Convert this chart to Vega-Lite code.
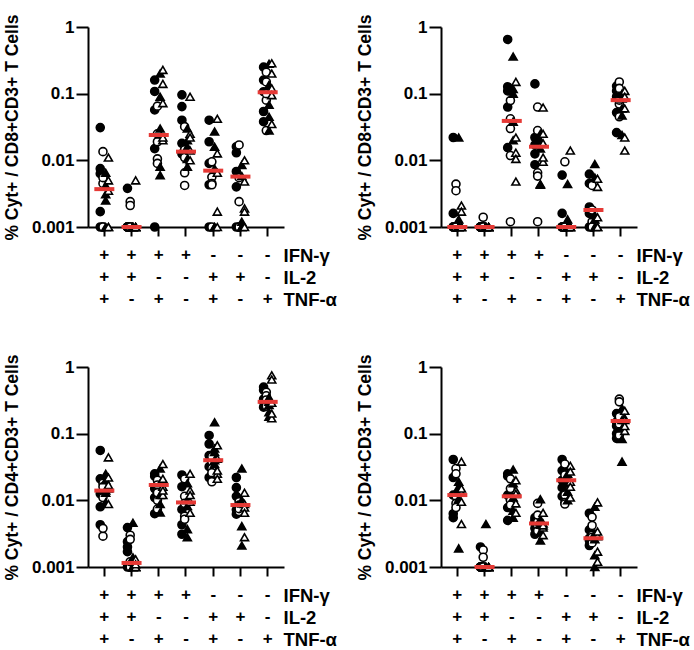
{
"$schema": "https://vega.github.io/schema/vega-lite/v6.json",
"padding": {"left": 3, "top": 13, "right": 0, "bottom": 0},
"config": {"font": "Liberation Sans", "view": {"stroke": null}, "legend": {"disable": true},
 "axis": {"grid": false, "domainColor": "black", "domainWidth": 2, "tickColor": "black", "tickWidth": 2, "labelColor": "black", "titleColor": "black", "labelFontSize": 17, "labelFontWeight": "bold", "titleFontSize": 17.5, "titleFontWeight": "bold"}},
"datasets": {
"pts": [
{"p":1,"c":"+++","g":"A","v":0.031},{"p":1,"c":"+++","g":"A","v":0.0075},{"p":1,"c":"+++","g":"A","v":0.0063},{"p":1,"c":"+++","g":"A","v":0.0017},{"p":1,"c":"+++","g":"A","v":0.001},
{"p":1,"c":"+++","g":"B","v":0.0135},{"p":1,"c":"+++","g":"B","v":0.0045},{"p":1,"c":"+++","g":"B","v":0.001},{"p":1,"c":"+++","g":"B","v":0.001},{"p":1,"c":"+++","g":"B","v":0.0055},
{"p":1,"c":"+++","g":"C","v":0.0031},{"p":1,"c":"+++","g":"C","v":0.0025},{"p":1,"c":"+++","g":"C","v":0.0042},{"p":1,"c":"+++","g":"C","v":0.001},{"p":1,"c":"+++","g":"C","v":0.0065},
{"p":1,"c":"+++","g":"D","v":0.011},{"p":1,"c":"+++","g":"D","v":0.005},{"p":1,"c":"+++","g":"D","v":0.0035},{"p":1,"c":"+++","g":"D","v":0.001},{"p":1,"c":"+++","g":"D","v":0.001},
{"p":1,"c":"++-","g":"A","v":0.0038},{"p":1,"c":"++-","g":"A","v":0.001},{"p":1,"c":"++-","g":"A","v":0.001},{"p":1,"c":"++-","g":"A","v":0.001},{"p":1,"c":"++-","g":"A","v":0.001},
{"p":1,"c":"++-","g":"B","v":0.0024},{"p":1,"c":"++-","g":"B","v":0.0021},{"p":1,"c":"++-","g":"B","v":0.001},{"p":1,"c":"++-","g":"B","v":0.001},{"p":1,"c":"++-","g":"B","v":0.001},
{"p":1,"c":"++-","g":"C","v":0.001},{"p":1,"c":"++-","g":"C","v":0.001},{"p":1,"c":"++-","g":"C","v":0.001},{"p":1,"c":"++-","g":"C","v":0.001},{"p":1,"c":"++-","g":"C","v":0.001},
{"p":1,"c":"++-","g":"D","v":0.005},{"p":1,"c":"++-","g":"D","v":0.001},{"p":1,"c":"++-","g":"D","v":0.001},{"p":1,"c":"++-","g":"D","v":0.001},{"p":1,"c":"++-","g":"D","v":0.001},
{"p":1,"c":"+-+","g":"A","v":0.16},{"p":1,"c":"+-+","g":"A","v":0.108},{"p":1,"c":"+-+","g":"A","v":0.057},{"p":1,"c":"+-+","g":"A","v":0.015},{"p":1,"c":"+-+","g":"A","v":0.001},
{"p":1,"c":"+-+","g":"B","v":0.065},{"p":1,"c":"+-+","g":"B","v":0.019},{"p":1,"c":"+-+","g":"B","v":0.0105},{"p":1,"c":"+-+","g":"B","v":0.009},{"p":1,"c":"+-+","g":"B","v":0.025},
{"p":1,"c":"+-+","g":"C","v":0.2},{"p":1,"c":"+-+","g":"C","v":0.09},{"p":1,"c":"+-+","g":"C","v":0.008},{"p":1,"c":"+-+","g":"C","v":0.006},{"p":1,"c":"+-+","g":"C","v":0.03},
{"p":1,"c":"+-+","g":"D","v":0.227},{"p":1,"c":"+-+","g":"D","v":0.072},{"p":1,"c":"+-+","g":"D","v":0.02},{"p":1,"c":"+-+","g":"D","v":0.022},{"p":1,"c":"+-+","g":"D","v":0.14},
{"p":1,"c":"+--","g":"A","v":0.096},{"p":1,"c":"+--","g":"A","v":0.064},{"p":1,"c":"+--","g":"A","v":0.04},{"p":1,"c":"+--","g":"A","v":0.018},{"p":1,"c":"+--","g":"A","v":0.0125},
{"p":1,"c":"+--","g":"B","v":0.032},{"p":1,"c":"+--","g":"B","v":0.0145},{"p":1,"c":"+--","g":"B","v":0.0065},{"p":1,"c":"+--","g":"B","v":0.0042},{"p":1,"c":"+--","g":"B","v":0.011},
{"p":1,"c":"+--","g":"C","v":0.03},{"p":1,"c":"+--","g":"C","v":0.016},{"p":1,"c":"+--","g":"C","v":0.008},{"p":1,"c":"+--","g":"C","v":0.02},{"p":1,"c":"+--","g":"C","v":0.0105},
{"p":1,"c":"+--","g":"D","v":0.09},{"p":1,"c":"+--","g":"D","v":0.025},{"p":1,"c":"+--","g":"D","v":0.014},{"p":1,"c":"+--","g":"D","v":0.01},{"p":1,"c":"+--","g":"D","v":0.022},
{"p":1,"c":"-++","g":"A","v":0.04},{"p":1,"c":"-++","g":"A","v":0.019},{"p":1,"c":"-++","g":"A","v":0.009},{"p":1,"c":"-++","g":"A","v":0.0043},{"p":1,"c":"-++","g":"A","v":0.001},
{"p":1,"c":"-++","g":"B","v":0.0095},{"p":1,"c":"-++","g":"B","v":0.0056},{"p":1,"c":"-++","g":"B","v":0.0045},{"p":1,"c":"-++","g":"B","v":0.0043},{"p":1,"c":"-++","g":"B","v":0.001},
{"p":1,"c":"-++","g":"C","v":0.027},{"p":1,"c":"-++","g":"C","v":0.016},{"p":1,"c":"-++","g":"C","v":0.0075},{"p":1,"c":"-++","g":"C","v":0.001},{"p":1,"c":"-++","g":"C","v":0.001},
{"p":1,"c":"-++","g":"D","v":0.042},{"p":1,"c":"-++","g":"D","v":0.0127},{"p":1,"c":"-++","g":"D","v":0.0017},{"p":1,"c":"-++","g":"D","v":0.001},{"p":1,"c":"-++","g":"D","v":0.0065},
{"p":1,"c":"-+-","g":"A","v":0.016},{"p":1,"c":"-+-","g":"A","v":0.013},{"p":1,"c":"-+-","g":"A","v":0.0068},{"p":1,"c":"-+-","g":"A","v":0.004},{"p":1,"c":"-+-","g":"A","v":0.001},
{"p":1,"c":"-+-","g":"B","v":0.017},{"p":1,"c":"-+-","g":"B","v":0.0024},{"p":1,"c":"-+-","g":"B","v":0.001},{"p":1,"c":"-+-","g":"B","v":0.001},{"p":1,"c":"-+-","g":"B","v":0.0055},
{"p":1,"c":"-+-","g":"C","v":0.0085},{"p":1,"c":"-+-","g":"C","v":0.0012},{"p":1,"c":"-+-","g":"C","v":0.001},{"p":1,"c":"-+-","g":"C","v":0.001},{"p":1,"c":"-+-","g":"C","v":0.0058},
{"p":1,"c":"-+-","g":"D","v":0.01},{"p":1,"c":"-+-","g":"D","v":0.0019},{"p":1,"c":"-+-","g":"D","v":0.0017},{"p":1,"c":"-+-","g":"D","v":0.001},{"p":1,"c":"-+-","g":"D","v":0.0048},
{"p":1,"c":"--+","g":"A","v":0.25},{"p":1,"c":"--+","g":"A","v":0.16},{"p":1,"c":"--+","g":"A","v":0.107},{"p":1,"c":"--+","g":"A","v":0.054},{"p":1,"c":"--+","g":"A","v":0.038},
{"p":1,"c":"--+","g":"B","v":0.21},{"p":1,"c":"--+","g":"B","v":0.15},{"p":1,"c":"--+","g":"B","v":0.08},{"p":1,"c":"--+","g":"B","v":0.028},{"p":1,"c":"--+","g":"B","v":0.1},
{"p":1,"c":"--+","g":"C","v":0.28},{"p":1,"c":"--+","g":"C","v":0.135},{"p":1,"c":"--+","g":"C","v":0.068},{"p":1,"c":"--+","g":"C","v":0.045},{"p":1,"c":"--+","g":"C","v":0.028},
{"p":1,"c":"--+","g":"D","v":0.286},{"p":1,"c":"--+","g":"D","v":0.12},{"p":1,"c":"--+","g":"D","v":0.095},{"p":1,"c":"--+","g":"D","v":0.035},{"p":1,"c":"--+","g":"D","v":0.2},

{"p":2,"c":"+++","g":"A","v":0.022},{"p":2,"c":"+++","g":"A","v":0.0016},{"p":2,"c":"+++","g":"A","v":0.001},{"p":2,"c":"+++","g":"A","v":0.001},{"p":2,"c":"+++","g":"A","v":0.001},
{"p":2,"c":"+++","g":"B","v":0.0044},{"p":2,"c":"+++","g":"B","v":0.0035},{"p":2,"c":"+++","g":"B","v":0.001},{"p":2,"c":"+++","g":"B","v":0.001},{"p":2,"c":"+++","g":"B","v":0.001},
{"p":2,"c":"+++","g":"C","v":0.022},{"p":2,"c":"+++","g":"C","v":0.0013},{"p":2,"c":"+++","g":"C","v":0.001},{"p":2,"c":"+++","g":"C","v":0.001},{"p":2,"c":"+++","g":"C","v":0.001},
{"p":2,"c":"+++","g":"D","v":0.0021},{"p":2,"c":"+++","g":"D","v":0.0017},{"p":2,"c":"+++","g":"D","v":0.001},{"p":2,"c":"+++","g":"D","v":0.001},{"p":2,"c":"+++","g":"D","v":0.001},
{"p":2,"c":"++-","g":"A","v":0.001},{"p":2,"c":"++-","g":"A","v":0.001},{"p":2,"c":"++-","g":"A","v":0.001},{"p":2,"c":"++-","g":"A","v":0.001},{"p":2,"c":"++-","g":"A","v":0.001},
{"p":2,"c":"++-","g":"B","v":0.0014},{"p":2,"c":"++-","g":"B","v":0.001},{"p":2,"c":"++-","g":"B","v":0.001},{"p":2,"c":"++-","g":"B","v":0.001},{"p":2,"c":"++-","g":"B","v":0.001},
{"p":2,"c":"++-","g":"C","v":0.001},{"p":2,"c":"++-","g":"C","v":0.001},{"p":2,"c":"++-","g":"C","v":0.001},{"p":2,"c":"++-","g":"C","v":0.001},{"p":2,"c":"++-","g":"C","v":0.001},
{"p":2,"c":"++-","g":"D","v":0.001},{"p":2,"c":"++-","g":"D","v":0.001},{"p":2,"c":"++-","g":"D","v":0.001},{"p":2,"c":"++-","g":"D","v":0.001},{"p":2,"c":"++-","g":"D","v":0.001},
{"p":2,"c":"+-+","g":"A","v":0.65},{"p":2,"c":"+-+","g":"A","v":0.127},{"p":2,"c":"+-+","g":"A","v":0.11},{"p":2,"c":"+-+","g":"A","v":0.063},{"p":2,"c":"+-+","g":"A","v":0.0155},
{"p":2,"c":"+-+","g":"B","v":0.079},{"p":2,"c":"+-+","g":"B","v":0.042},{"p":2,"c":"+-+","g":"B","v":0.0118},{"p":2,"c":"+-+","g":"B","v":0.0012},{"p":2,"c":"+-+","g":"B","v":0.03},
{"p":2,"c":"+-+","g":"C","v":0.36},{"p":2,"c":"+-+","g":"C","v":0.118},{"p":2,"c":"+-+","g":"C","v":0.038},{"p":2,"c":"+-+","g":"C","v":0.02},{"p":2,"c":"+-+","g":"C","v":0.1},
{"p":2,"c":"+-+","g":"D","v":0.15},{"p":2,"c":"+-+","g":"D","v":0.022},{"p":2,"c":"+-+","g":"D","v":0.013},{"p":2,"c":"+-+","g":"D","v":0.0105},{"p":2,"c":"+-+","g":"D","v":0.0048},
{"p":2,"c":"+--","g":"A","v":0.14},{"p":2,"c":"+--","g":"A","v":0.022},{"p":2,"c":"+--","g":"A","v":0.0125},{"p":2,"c":"+--","g":"A","v":0.0086},{"p":2,"c":"+--","g":"A","v":0.017},
{"p":2,"c":"+--","g":"B","v":0.063},{"p":2,"c":"+--","g":"B","v":0.028},{"p":2,"c":"+--","g":"B","v":0.0065},{"p":2,"c":"+--","g":"B","v":0.0058},{"p":2,"c":"+--","g":"B","v":0.0012},
{"p":2,"c":"+--","g":"C","v":0.02},{"p":2,"c":"+--","g":"C","v":0.015},{"p":2,"c":"+--","g":"C","v":0.0044},{"p":2,"c":"+--","g":"C","v":0.0043},{"p":2,"c":"+--","g":"C","v":0.025},
{"p":2,"c":"+--","g":"D","v":0.062},{"p":2,"c":"+--","g":"D","v":0.025},{"p":2,"c":"+--","g":"D","v":0.018},{"p":2,"c":"+--","g":"D","v":0.0095},{"p":2,"c":"+--","g":"D","v":0.011},
{"p":2,"c":"-++","g":"A","v":0.006},{"p":2,"c":"-++","g":"A","v":0.0016},{"p":2,"c":"-++","g":"A","v":0.001},{"p":2,"c":"-++","g":"A","v":0.001},{"p":2,"c":"-++","g":"A","v":0.001},
{"p":2,"c":"-++","g":"B","v":0.0095},{"p":2,"c":"-++","g":"B","v":0.001},{"p":2,"c":"-++","g":"B","v":0.001},{"p":2,"c":"-++","g":"B","v":0.001},{"p":2,"c":"-++","g":"B","v":0.001},
{"p":2,"c":"-++","g":"C","v":0.0044},{"p":2,"c":"-++","g":"C","v":0.0013},{"p":2,"c":"-++","g":"C","v":0.001},{"p":2,"c":"-++","g":"C","v":0.001},{"p":2,"c":"-++","g":"C","v":0.001},
{"p":2,"c":"-++","g":"D","v":0.014},{"p":2,"c":"-++","g":"D","v":0.001},{"p":2,"c":"-++","g":"D","v":0.001},{"p":2,"c":"-++","g":"D","v":0.001},{"p":2,"c":"-++","g":"D","v":0.001},
{"p":2,"c":"-+-","g":"A","v":0.0062},{"p":2,"c":"-+-","g":"A","v":0.0045},{"p":2,"c":"-+-","g":"A","v":0.002},{"p":2,"c":"-+-","g":"A","v":0.0016},{"p":2,"c":"-+-","g":"A","v":0.001},
{"p":2,"c":"-+-","g":"B","v":0.0042},{"p":2,"c":"-+-","g":"B","v":0.0012},{"p":2,"c":"-+-","g":"B","v":0.001},{"p":2,"c":"-+-","g":"B","v":0.001},{"p":2,"c":"-+-","g":"B","v":0.0018},
{"p":2,"c":"-+-","g":"C","v":0.0088},{"p":2,"c":"-+-","g":"C","v":0.0055},{"p":2,"c":"-+-","g":"C","v":0.0013},{"p":2,"c":"-+-","g":"C","v":0.001},{"p":2,"c":"-+-","g":"C","v":0.0015},
{"p":2,"c":"-+-","g":"D","v":0.0053},{"p":2,"c":"-+-","g":"D","v":0.004},{"p":2,"c":"-+-","g":"D","v":0.0014},{"p":2,"c":"-+-","g":"D","v":0.001},{"p":2,"c":"-+-","g":"D","v":0.001},
{"p":2,"c":"--+","g":"A","v":0.13},{"p":2,"c":"--+","g":"A","v":0.11},{"p":2,"c":"--+","g":"A","v":0.052},{"p":2,"c":"--+","g":"A","v":0.026},{"p":2,"c":"--+","g":"A","v":0.09},
{"p":2,"c":"--+","g":"B","v":0.15},{"p":2,"c":"--+","g":"B","v":0.12},{"p":2,"c":"--+","g":"B","v":0.07},{"p":2,"c":"--+","g":"B","v":0.045},{"p":2,"c":"--+","g":"B","v":0.08},
{"p":2,"c":"--+","g":"C","v":0.1},{"p":2,"c":"--+","g":"C","v":0.085},{"p":2,"c":"--+","g":"C","v":0.047},{"p":2,"c":"--+","g":"C","v":0.024},{"p":2,"c":"--+","g":"C","v":0.06},
{"p":2,"c":"--+","g":"D","v":0.11},{"p":2,"c":"--+","g":"D","v":0.06},{"p":2,"c":"--+","g":"D","v":0.022},{"p":2,"c":"--+","g":"D","v":0.014},{"p":2,"c":"--+","g":"D","v":0.09},

{"p":3,"c":"+++","g":"A","v":0.056},{"p":3,"c":"+++","g":"A","v":0.021},{"p":3,"c":"+++","g":"A","v":0.0125},{"p":3,"c":"+++","g":"A","v":0.008},{"p":3,"c":"+++","g":"A","v":0.0043},
{"p":3,"c":"+++","g":"B","v":0.018},{"p":3,"c":"+++","g":"B","v":0.016},{"p":3,"c":"+++","g":"B","v":0.011},{"p":3,"c":"+++","g":"B","v":0.0029},{"p":3,"c":"+++","g":"B","v":0.0038},
{"p":3,"c":"+++","g":"C","v":0.025},{"p":3,"c":"+++","g":"C","v":0.014},{"p":3,"c":"+++","g":"C","v":0.0093},{"p":3,"c":"+++","g":"C","v":0.02},{"p":3,"c":"+++","g":"C","v":0.013},
{"p":3,"c":"+++","g":"D","v":0.044},{"p":3,"c":"+++","g":"D","v":0.015},{"p":3,"c":"+++","g":"D","v":0.0088},{"p":3,"c":"+++","g":"D","v":0.022},{"p":3,"c":"+++","g":"D","v":0.017},
{"p":3,"c":"++-","g":"A","v":0.0039},{"p":3,"c":"++-","g":"A","v":0.0024},{"p":3,"c":"++-","g":"A","v":0.002},{"p":3,"c":"++-","g":"A","v":0.0017},{"p":3,"c":"++-","g":"A","v":0.001},
{"p":3,"c":"++-","g":"B","v":0.003},{"p":3,"c":"++-","g":"B","v":0.0026},{"p":3,"c":"++-","g":"B","v":0.001},{"p":3,"c":"++-","g":"B","v":0.001},{"p":3,"c":"++-","g":"B","v":0.0012},
{"p":3,"c":"++-","g":"C","v":0.0046},{"p":3,"c":"++-","g":"C","v":0.0014},{"p":3,"c":"++-","g":"C","v":0.001},{"p":3,"c":"++-","g":"C","v":0.001},{"p":3,"c":"++-","g":"C","v":0.001},
{"p":3,"c":"++-","g":"D","v":0.0013},{"p":3,"c":"++-","g":"D","v":0.001},{"p":3,"c":"++-","g":"D","v":0.001},{"p":3,"c":"++-","g":"D","v":0.001},{"p":3,"c":"++-","g":"D","v":0.0011},
{"p":3,"c":"+-+","g":"A","v":0.025},{"p":3,"c":"+-+","g":"A","v":0.015},{"p":3,"c":"+-+","g":"A","v":0.011},{"p":3,"c":"+-+","g":"A","v":0.0063},{"p":3,"c":"+-+","g":"A","v":0.023},
{"p":3,"c":"+-+","g":"B","v":0.02},{"p":3,"c":"+-+","g":"B","v":0.01},{"p":3,"c":"+-+","g":"B","v":0.0074},{"p":3,"c":"+-+","g":"B","v":0.017},{"p":3,"c":"+-+","g":"B","v":0.013},
{"p":3,"c":"+-+","g":"C","v":0.03},{"p":3,"c":"+-+","g":"C","v":0.018},{"p":3,"c":"+-+","g":"C","v":0.012},{"p":3,"c":"+-+","g":"C","v":0.0088},{"p":3,"c":"+-+","g":"C","v":0.0066},
{"p":3,"c":"+-+","g":"D","v":0.035},{"p":3,"c":"+-+","g":"D","v":0.021},{"p":3,"c":"+-+","g":"D","v":0.016},{"p":3,"c":"+-+","g":"D","v":0.012},{"p":3,"c":"+-+","g":"D","v":0.014},
{"p":3,"c":"+--","g":"A","v":0.024},{"p":3,"c":"+--","g":"A","v":0.016},{"p":3,"c":"+--","g":"A","v":0.0073},{"p":3,"c":"+--","g":"A","v":0.0043},{"p":3,"c":"+--","g":"A","v":0.0031},
{"p":3,"c":"+--","g":"B","v":0.021},{"p":3,"c":"+--","g":"B","v":0.0115},{"p":3,"c":"+--","g":"B","v":0.0058},{"p":3,"c":"+--","g":"B","v":0.0052},{"p":3,"c":"+--","g":"B","v":0.009},
{"p":3,"c":"+--","g":"C","v":0.018},{"p":3,"c":"+--","g":"C","v":0.0082},{"p":3,"c":"+--","g":"C","v":0.0037},{"p":3,"c":"+--","g":"C","v":0.0028},{"p":3,"c":"+--","g":"C","v":0.01},
{"p":3,"c":"+--","g":"D","v":0.025},{"p":3,"c":"+--","g":"D","v":0.014},{"p":3,"c":"+--","g":"D","v":0.0095},{"p":3,"c":"+--","g":"D","v":0.0065},{"p":3,"c":"+--","g":"D","v":0.012},
{"p":3,"c":"-++","g":"A","v":0.094},{"p":3,"c":"-++","g":"A","v":0.07},{"p":3,"c":"-++","g":"A","v":0.047},{"p":3,"c":"-++","g":"A","v":0.032},{"p":3,"c":"-++","g":"A","v":0.022},
{"p":3,"c":"-++","g":"B","v":0.038},{"p":3,"c":"-++","g":"B","v":0.03},{"p":3,"c":"-++","g":"B","v":0.019},{"p":3,"c":"-++","g":"B","v":0.045},{"p":3,"c":"-++","g":"B","v":0.026},
{"p":3,"c":"-++","g":"C","v":0.148},{"p":3,"c":"-++","g":"C","v":0.053},{"p":3,"c":"-++","g":"C","v":0.04},{"p":3,"c":"-++","g":"C","v":0.035},{"p":3,"c":"-++","g":"C","v":0.06},
{"p":3,"c":"-++","g":"D","v":0.067},{"p":3,"c":"-++","g":"D","v":0.042},{"p":3,"c":"-++","g":"D","v":0.025},{"p":3,"c":"-++","g":"D","v":0.021},{"p":3,"c":"-++","g":"D","v":0.028},
{"p":3,"c":"-+-","g":"A","v":0.022},{"p":3,"c":"-+-","g":"A","v":0.0155},{"p":3,"c":"-+-","g":"A","v":0.0115},{"p":3,"c":"-+-","g":"A","v":0.0072},{"p":3,"c":"-+-","g":"A","v":0.0062},
{"p":3,"c":"-+-","g":"B","v":0.0095},{"p":3,"c":"-+-","g":"B","v":0.0085},{"p":3,"c":"-+-","g":"B","v":0.0068},{"p":3,"c":"-+-","g":"B","v":0.0082},{"p":3,"c":"-+-","g":"B","v":0.0075},
{"p":3,"c":"-+-","g":"C","v":0.03},{"p":3,"c":"-+-","g":"C","v":0.0041},{"p":3,"c":"-+-","g":"C","v":0.0021},{"p":3,"c":"-+-","g":"C","v":0.009},{"p":3,"c":"-+-","g":"C","v":0.01},
{"p":3,"c":"-+-","g":"D","v":0.013},{"p":3,"c":"-+-","g":"D","v":0.0028},{"p":3,"c":"-+-","g":"D","v":0.0088},{"p":3,"c":"-+-","g":"D","v":0.0078},{"p":3,"c":"-+-","g":"D","v":0.0065},
{"p":3,"c":"--+","g":"A","v":0.5},{"p":3,"c":"--+","g":"A","v":0.45},{"p":3,"c":"--+","g":"A","v":0.33},{"p":3,"c":"--+","g":"A","v":0.25},{"p":3,"c":"--+","g":"A","v":0.3},
{"p":3,"c":"--+","g":"B","v":0.42},{"p":3,"c":"--+","g":"B","v":0.37},{"p":3,"c":"--+","g":"B","v":0.28},{"p":3,"c":"--+","g":"B","v":0.26},{"p":3,"c":"--+","g":"B","v":0.32},
{"p":3,"c":"--+","g":"C","v":0.3},{"p":3,"c":"--+","g":"C","v":0.21},{"p":3,"c":"--+","g":"C","v":0.18},{"p":3,"c":"--+","g":"C","v":0.35},{"p":3,"c":"--+","g":"C","v":0.27},
{"p":3,"c":"--+","g":"D","v":0.75},{"p":3,"c":"--+","g":"D","v":0.65},{"p":3,"c":"--+","g":"D","v":0.17},{"p":3,"c":"--+","g":"D","v":0.2},{"p":3,"c":"--+","g":"D","v":0.29},

{"p":4,"c":"+++","g":"A","v":0.041},{"p":4,"c":"+++","g":"A","v":0.022},{"p":4,"c":"+++","g":"A","v":0.012},{"p":4,"c":"+++","g":"A","v":0.0063},{"p":4,"c":"+++","g":"A","v":0.0055},
{"p":4,"c":"+++","g":"B","v":0.03},{"p":4,"c":"+++","g":"B","v":0.025},{"p":4,"c":"+++","g":"B","v":0.0115},{"p":4,"c":"+++","g":"B","v":0.009},{"p":4,"c":"+++","g":"B","v":0.0078},
{"p":4,"c":"+++","g":"C","v":0.019},{"p":4,"c":"+++","g":"C","v":0.014},{"p":4,"c":"+++","g":"C","v":0.0019},{"p":4,"c":"+++","g":"C","v":0.0105},{"p":4,"c":"+++","g":"C","v":0.016},
{"p":4,"c":"+++","g":"D","v":0.038},{"p":4,"c":"+++","g":"D","v":0.0044},{"p":4,"c":"+++","g":"D","v":0.013},{"p":4,"c":"+++","g":"D","v":0.015},{"p":4,"c":"+++","g":"D","v":0.0095},
{"p":4,"c":"++-","g":"A","v":0.002},{"p":4,"c":"++-","g":"A","v":0.001},{"p":4,"c":"++-","g":"A","v":0.001},{"p":4,"c":"++-","g":"A","v":0.001},{"p":4,"c":"++-","g":"A","v":0.001},
{"p":4,"c":"++-","g":"B","v":0.0018},{"p":4,"c":"++-","g":"B","v":0.0014},{"p":4,"c":"++-","g":"B","v":0.001},{"p":4,"c":"++-","g":"B","v":0.001},{"p":4,"c":"++-","g":"B","v":0.001},
{"p":4,"c":"++-","g":"C","v":0.0044},{"p":4,"c":"++-","g":"C","v":0.001},{"p":4,"c":"++-","g":"C","v":0.001},{"p":4,"c":"++-","g":"C","v":0.001},{"p":4,"c":"++-","g":"C","v":0.001},
{"p":4,"c":"++-","g":"D","v":0.001},{"p":4,"c":"++-","g":"D","v":0.001},{"p":4,"c":"++-","g":"D","v":0.001},{"p":4,"c":"++-","g":"D","v":0.001},{"p":4,"c":"++-","g":"D","v":0.001},
{"p":4,"c":"+-+","g":"A","v":0.025},{"p":4,"c":"+-+","g":"A","v":0.023},{"p":4,"c":"+-+","g":"A","v":0.0078},{"p":4,"c":"+-+","g":"A","v":0.005},{"p":4,"c":"+-+","g":"A","v":0.012},
{"p":4,"c":"+-+","g":"B","v":0.021},{"p":4,"c":"+-+","g":"B","v":0.0104},{"p":4,"c":"+-+","g":"B","v":0.01},{"p":4,"c":"+-+","g":"B","v":0.015},{"p":4,"c":"+-+","g":"B","v":0.0085},
{"p":4,"c":"+-+","g":"C","v":0.029},{"p":4,"c":"+-+","g":"C","v":0.018},{"p":4,"c":"+-+","g":"C","v":0.0055},{"p":4,"c":"+-+","g":"C","v":0.007},{"p":4,"c":"+-+","g":"C","v":0.011},
{"p":4,"c":"+-+","g":"D","v":0.02},{"p":4,"c":"+-+","g":"D","v":0.014},{"p":4,"c":"+-+","g":"D","v":0.009},{"p":4,"c":"+-+","g":"D","v":0.0125},{"p":4,"c":"+-+","g":"D","v":0.0065},
{"p":4,"c":"+--","g":"A","v":0.0055},{"p":4,"c":"+--","g":"A","v":0.0045},{"p":4,"c":"+--","g":"A","v":0.0031},{"p":4,"c":"+--","g":"A","v":0.0038},{"p":4,"c":"+--","g":"A","v":0.005},
{"p":4,"c":"+--","g":"B","v":0.009},{"p":4,"c":"+--","g":"B","v":0.0041},{"p":4,"c":"+--","g":"B","v":0.0035},{"p":4,"c":"+--","g":"B","v":0.0048},{"p":4,"c":"+--","g":"B","v":0.006},
{"p":4,"c":"+--","g":"C","v":0.0104},{"p":4,"c":"+--","g":"C","v":0.0025},{"p":4,"c":"+--","g":"C","v":0.0043},{"p":4,"c":"+--","g":"C","v":0.0033},{"p":4,"c":"+--","g":"C","v":0.0052},
{"p":4,"c":"+--","g":"D","v":0.0065},{"p":4,"c":"+--","g":"D","v":0.0045},{"p":4,"c":"+--","g":"D","v":0.0039},{"p":4,"c":"+--","g":"D","v":0.003},{"p":4,"c":"+--","g":"D","v":0.0042},
{"p":4,"c":"-++","g":"A","v":0.041},{"p":4,"c":"-++","g":"A","v":0.028},{"p":4,"c":"-++","g":"A","v":0.02},{"p":4,"c":"-++","g":"A","v":0.0155},{"p":4,"c":"-++","g":"A","v":0.0115},
{"p":4,"c":"-++","g":"B","v":0.035},{"p":4,"c":"-++","g":"B","v":0.024},{"p":4,"c":"-++","g":"B","v":0.012},{"p":4,"c":"-++","g":"B","v":0.0093},{"p":4,"c":"-++","g":"B","v":0.0088},
{"p":4,"c":"-++","g":"C","v":0.025},{"p":4,"c":"-++","g":"C","v":0.018},{"p":4,"c":"-++","g":"C","v":0.022},{"p":4,"c":"-++","g":"C","v":0.0135},{"p":4,"c":"-++","g":"C","v":0.01},
{"p":4,"c":"-++","g":"D","v":0.033},{"p":4,"c":"-++","g":"D","v":0.027},{"p":4,"c":"-++","g":"D","v":0.019},{"p":4,"c":"-++","g":"D","v":0.016},{"p":4,"c":"-++","g":"D","v":0.011},
{"p":4,"c":"-+-","g":"A","v":0.0064},{"p":4,"c":"-+-","g":"A","v":0.0036},{"p":4,"c":"-+-","g":"A","v":0.0027},{"p":4,"c":"-+-","g":"A","v":0.0025},{"p":4,"c":"-+-","g":"A","v":0.0021},
{"p":4,"c":"-+-","g":"B","v":0.0056},{"p":4,"c":"-+-","g":"B","v":0.0042},{"p":4,"c":"-+-","g":"B","v":0.0023},{"p":4,"c":"-+-","g":"B","v":0.003},{"p":4,"c":"-+-","g":"B","v":0.0028},
{"p":4,"c":"-+-","g":"C","v":0.008},{"p":4,"c":"-+-","g":"C","v":0.0015},{"p":4,"c":"-+-","g":"C","v":0.001},{"p":4,"c":"-+-","g":"C","v":0.0026},{"p":4,"c":"-+-","g":"C","v":0.0032},
{"p":4,"c":"-+-","g":"D","v":0.0093},{"p":4,"c":"-+-","g":"D","v":0.0017},{"p":4,"c":"-+-","g":"D","v":0.0012},{"p":4,"c":"-+-","g":"D","v":0.0029},{"p":4,"c":"-+-","g":"D","v":0.0034},
{"p":4,"c":"--+","g":"A","v":0.2},{"p":4,"c":"--+","g":"A","v":0.15},{"p":4,"c":"--+","g":"A","v":0.1},{"p":4,"c":"--+","g":"A","v":0.085},{"p":4,"c":"--+","g":"A","v":0.13},
{"p":4,"c":"--+","g":"B","v":0.33},{"p":4,"c":"--+","g":"B","v":0.3},{"p":4,"c":"--+","g":"B","v":0.18},{"p":4,"c":"--+","g":"B","v":0.095},{"p":4,"c":"--+","g":"B","v":0.14},
{"p":4,"c":"--+","g":"C","v":0.24},{"p":4,"c":"--+","g":"C","v":0.16},{"p":4,"c":"--+","g":"C","v":0.083},{"p":4,"c":"--+","g":"C","v":0.038},{"p":4,"c":"--+","g":"C","v":0.12},
{"p":4,"c":"--+","g":"D","v":0.22},{"p":4,"c":"--+","g":"D","v":0.17},{"p":4,"c":"--+","g":"D","v":0.11},{"p":4,"c":"--+","g":"D","v":0.16},{"p":4,"c":"--+","g":"D","v":0.13}
],
"med": [
{"p":1,"c":"+++","v":0.0037},{"p":1,"c":"++-","v":0.001},{"p":1,"c":"+-+","v":0.024},{"p":1,"c":"+--","v":0.0135},{"p":1,"c":"-++","v":0.007},{"p":1,"c":"-+-","v":0.0057},{"p":1,"c":"--+","v":0.105},
{"p":2,"c":"+++","v":0.001},{"p":2,"c":"++-","v":0.001},{"p":2,"c":"+-+","v":0.039},{"p":2,"c":"+--","v":0.016},{"p":2,"c":"-++","v":0.001},{"p":2,"c":"-+-","v":0.0018},{"p":2,"c":"--+","v":0.08},
{"p":3,"c":"+++","v":0.014},{"p":3,"c":"++-","v":0.00115},{"p":3,"c":"+-+","v":0.017},{"p":3,"c":"+--","v":0.0093},{"p":3,"c":"-++","v":0.04},{"p":3,"c":"-+-","v":0.0085},{"p":3,"c":"--+","v":0.3},
{"p":4,"c":"+++","v":0.012},{"p":4,"c":"++-","v":0.001},{"p":4,"c":"+-+","v":0.0115},{"p":4,"c":"+--","v":0.0045},{"p":4,"c":"-++","v":0.02},{"p":4,"c":"-+-","v":0.0027},{"p":4,"c":"--+","v":0.155}
]
},
"columns": 2,
"spacing": {"row": 44, "column": 19},
"concat": [
 {"width": 196, "height": 200,
  "encoding": {
   "x": {"field": "c", "type": "nominal", "scale": {"type": "band", "domain": ["+++","++-","+-+","+--","-++","-+-","--+"], "paddingInner": 0.6, "paddingOuter": 0.4},
     "axis": {"labelExpr": "[substring(datum.label,0,1), substring(datum.label,1,2), substring(datum.label,2,3)]", "labelAngle": 0, "labelLineHeight": 22, "labelBaseline": "top", "labelPadding": 10, "tickSize": 9, "labelOverlap": false,
       "title": ["IFN-γ","IL-2","TNF-α"], "titleFontSize": 18.5, "titleX": 195, "titleY": 19, "titleAlign": "left", "titleAnchor": "start", "titleBaseline": "top", "titleLineHeight": 22}},
   "y": {"field": "v", "type": "quantitative", "scale": {"type": "log", "domain": [0.001, 1]},
     "axis": {"values": [0.001, 0.01, 0.1, 1], "format": "~g", "tickSize": 12, "labelPadding": 2, "titlePadding": 10, "title": "% Cyt+ / CD8+CD3+ T Cells"}}
  },
  "layer": [
   {"data": {"name": "pts"}, "transform": [{"filter": "datum.p == 1"}],
    "mark": {"type": "point", "filled": true, "stroke": "black", "strokeWidth": 1.6, "size": 64, "opacity": 1},
    "encoding": {"xOffset": {"field": "g", "type": "nominal"},
      "shape": {"field": "g", "type": "nominal", "scale": {"domain": ["A","B","C","D"], "range": ["circle","circle","triangle-up","triangle-up"]}},
      "fill": {"field": "g", "type": "nominal", "scale": {"domain": ["A","B","C","D"], "range": ["black","white","black","white"]}}}},
   {"data": {"values": [{}]}, "mark": {"type": "rule", "strokeDash": [2, 2.5], "strokeWidth": 2, "color": "black"}, "encoding": {"x": null, "y": {"datum": 0.01}}},
   {"data": {"name": "med"}, "transform": [{"filter": "datum.p == 1"}], "mark": {"type": "tick", "color": "#e53935", "thickness": 4, "size": 20, "opacity": 1}}
  ]},
 {"width": 196, "height": 200,
  "encoding": {
   "x": {"field": "c", "type": "nominal", "scale": {"type": "band", "domain": ["+++","++-","+-+","+--","-++","-+-","--+"], "paddingInner": 0.6, "paddingOuter": 0.4},
     "axis": {"labelExpr": "[substring(datum.label,0,1), substring(datum.label,1,2), substring(datum.label,2,3)]", "labelAngle": 0, "labelLineHeight": 22, "labelBaseline": "top", "labelPadding": 10, "tickSize": 9, "labelOverlap": false,
       "title": ["IFN-γ","IL-2","TNF-α"], "titleFontSize": 18.5, "titleX": 195, "titleY": 19, "titleAlign": "left", "titleAnchor": "start", "titleBaseline": "top", "titleLineHeight": 22}},
   "y": {"field": "v", "type": "quantitative", "scale": {"type": "log", "domain": [0.001, 1]},
     "axis": {"values": [0.001, 0.01, 0.1, 1], "format": "~g", "tickSize": 12, "labelPadding": 2, "titlePadding": 10, "title": "% Cyt+ / CD8+CD3+ T Cells"}}
  },
  "layer": [
   {"data": {"name": "pts"}, "transform": [{"filter": "datum.p == 2"}],
    "mark": {"type": "point", "filled": true, "stroke": "black", "strokeWidth": 1.6, "size": 64, "opacity": 1},
    "encoding": {"xOffset": {"field": "g", "type": "nominal"},
      "shape": {"field": "g", "type": "nominal", "scale": {"domain": ["A","B","C","D"], "range": ["circle","circle","triangle-up","triangle-up"]}},
      "fill": {"field": "g", "type": "nominal", "scale": {"domain": ["A","B","C","D"], "range": ["black","white","black","white"]}}}},
   {"data": {"values": [{}]}, "mark": {"type": "rule", "strokeDash": [2, 2.5], "strokeWidth": 2, "color": "black"}, "encoding": {"x": null, "y": {"datum": 0.01}}},
   {"data": {"name": "med"}, "transform": [{"filter": "datum.p == 2"}], "mark": {"type": "tick", "color": "#e53935", "thickness": 4, "size": 20, "opacity": 1}}
  ]},
 {"width": 196, "height": 200,
  "encoding": {
   "x": {"field": "c", "type": "nominal", "scale": {"type": "band", "domain": ["+++","++-","+-+","+--","-++","-+-","--+"], "paddingInner": 0.6, "paddingOuter": 0.4},
     "axis": {"labelExpr": "[substring(datum.label,0,1), substring(datum.label,1,2), substring(datum.label,2,3)]", "labelAngle": 0, "labelLineHeight": 22, "labelBaseline": "top", "labelPadding": 10, "tickSize": 9, "labelOverlap": false,
       "title": ["IFN-γ","IL-2","TNF-α"], "titleFontSize": 18.5, "titleX": 195, "titleY": 19, "titleAlign": "left", "titleAnchor": "start", "titleBaseline": "top", "titleLineHeight": 22}},
   "y": {"field": "v", "type": "quantitative", "scale": {"type": "log", "domain": [0.001, 1]},
     "axis": {"values": [0.001, 0.01, 0.1, 1], "format": "~g", "tickSize": 12, "labelPadding": 2, "titlePadding": 10, "title": "% Cyt+ / CD4+CD3+ T Cells"}}
  },
  "layer": [
   {"data": {"name": "pts"}, "transform": [{"filter": "datum.p == 3"}],
    "mark": {"type": "point", "filled": true, "stroke": "black", "strokeWidth": 1.6, "size": 64, "opacity": 1},
    "encoding": {"xOffset": {"field": "g", "type": "nominal"},
      "shape": {"field": "g", "type": "nominal", "scale": {"domain": ["A","B","C","D"], "range": ["circle","circle","triangle-up","triangle-up"]}},
      "fill": {"field": "g", "type": "nominal", "scale": {"domain": ["A","B","C","D"], "range": ["black","white","black","white"]}}}},
   {"data": {"values": [{}]}, "mark": {"type": "rule", "strokeDash": [2, 2.5], "strokeWidth": 2, "color": "black"}, "encoding": {"x": null, "y": {"datum": 0.01}}},
   {"data": {"name": "med"}, "transform": [{"filter": "datum.p == 3"}], "mark": {"type": "tick", "color": "#e53935", "thickness": 4, "size": 20, "opacity": 1}}
  ]},
 {"width": 196, "height": 200,
  "encoding": {
   "x": {"field": "c", "type": "nominal", "scale": {"type": "band", "domain": ["+++","++-","+-+","+--","-++","-+-","--+"], "paddingInner": 0.6, "paddingOuter": 0.4},
     "axis": {"labelExpr": "[substring(datum.label,0,1), substring(datum.label,1,2), substring(datum.label,2,3)]", "labelAngle": 0, "labelLineHeight": 22, "labelBaseline": "top", "labelPadding": 10, "tickSize": 9, "labelOverlap": false,
       "title": ["IFN-γ","IL-2","TNF-α"], "titleFontSize": 18.5, "titleX": 195, "titleY": 19, "titleAlign": "left", "titleAnchor": "start", "titleBaseline": "top", "titleLineHeight": 22}},
   "y": {"field": "v", "type": "quantitative", "scale": {"type": "log", "domain": [0.001, 1]},
     "axis": {"values": [0.001, 0.01, 0.1, 1], "format": "~g", "tickSize": 12, "labelPadding": 2, "titlePadding": 10, "title": "% Cyt+ / CD4+CD3+ T Cells"}}
  },
  "layer": [
   {"data": {"name": "pts"}, "transform": [{"filter": "datum.p == 4"}],
    "mark": {"type": "point", "filled": true, "stroke": "black", "strokeWidth": 1.6, "size": 64, "opacity": 1},
    "encoding": {"xOffset": {"field": "g", "type": "nominal"},
      "shape": {"field": "g", "type": "nominal", "scale": {"domain": ["A","B","C","D"], "range": ["circle","circle","triangle-up","triangle-up"]}},
      "fill": {"field": "g", "type": "nominal", "scale": {"domain": ["A","B","C","D"], "range": ["black","white","black","white"]}}}},
   {"data": {"values": [{}]}, "mark": {"type": "rule", "strokeDash": [2, 2.5], "strokeWidth": 2, "color": "black"}, "encoding": {"x": null, "y": {"datum": 0.01}}},
   {"data": {"name": "med"}, "transform": [{"filter": "datum.p == 4"}], "mark": {"type": "tick", "color": "#e53935", "thickness": 4, "size": 20, "opacity": 1}}
  ]}
]
}
